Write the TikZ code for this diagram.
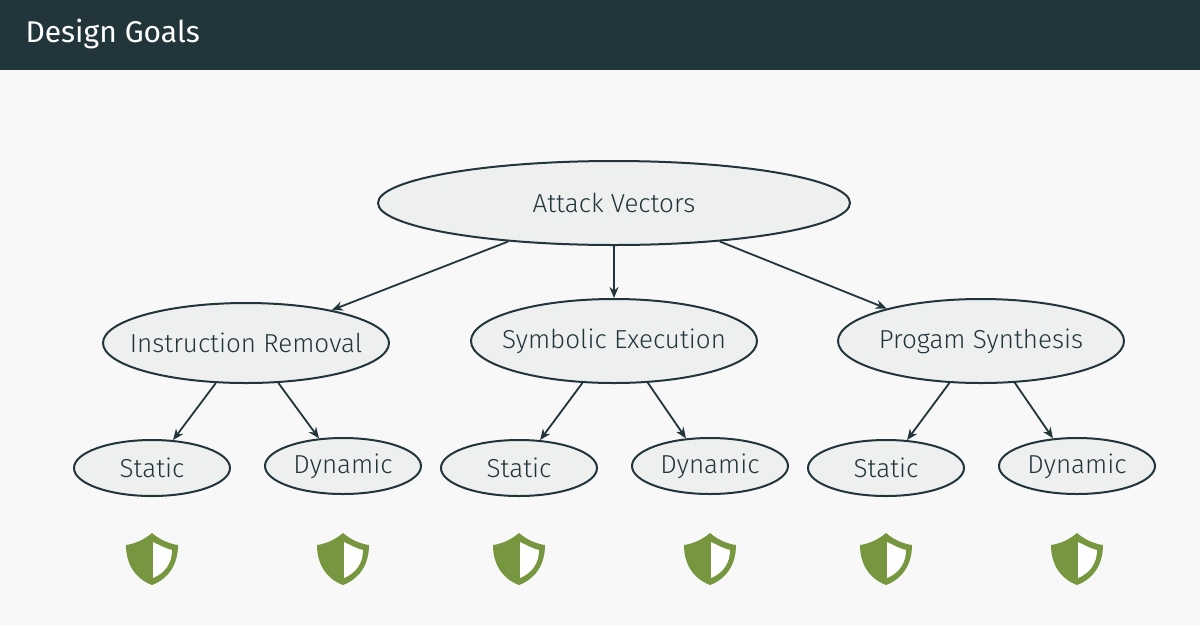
\documentclass[tikz,border=0pt]{standalone}
\usepackage{fontspec}
\setmainfont{Fira Sans}[UprightFont=* Light]
\newfontfamily\titlefont{Fira Sans}
\usetikzlibrary{shapes.geometric,arrows.meta}
\definecolor{dk}{HTML}{22353A}
\definecolor{bg}{HTML}{F8F8F8}
\definecolor{ef}{HTML}{EEF0F0}
\definecolor{gr}{HTML}{76973F}
\tikzset{
 ell/.style={ellipse,draw=dk,fill=ef,line width=2pt,inner sep=0pt,label={[text=dk,font=\fontsize{26}{30}\selectfont]center:#1}},
 arr/.style={draw=dk,line width=1.8pt,-{Stealth[length=11pt,width=9pt]}},
 shield/.pic={\fill[gr] (0,-24) .. controls (8,-17) and (18,-13) .. (26,-12) .. controls (26,8) and (16,22) .. (0,28) .. controls (-16,22) and (-26,8) .. (-26,-12) .. controls (-18,-13) and (-8,-17) .. (0,-24) -- cycle;
 \fill[white] (1,-15) .. controls (9,-11) and (15,-8) .. (20,-7) .. controls (20,6) and (13,16) .. (1,21) -- cycle;}
}
\begin{document}
\begin{tikzpicture}[x=1pt,y=-1pt]
\useasboundingbox (0,0) rectangle (1200,625);
\fill[bg] (0,0) rectangle (1200,625);
\fill[dk] (0,0) rectangle (1200,70);
\node[anchor=west,text=white,font=\titlefont\fontsize{30}{34}\selectfont] (title) at (22,34) {Design Goals};
\node[ell={Attack Vectors},minimum width=472pt,minimum height=84pt] (av) at (614,203) {};
\node[ell={Instruction Removal},minimum width=286pt,minimum height=80pt] (ir) at (246,343) {};
\node[ell={Symbolic Execution},minimum width=286pt,minimum height=84pt] (se) at (614,341) {};
\node[ell={Progam Synthesis},minimum width=286pt,minimum height=84pt] (ps) at (981,341) {};
\foreach \n/\x/\y/\t in {s1/152/468/Static,d1/343/466/Dynamic,s2/519/468/Static,d2/710/466/Dynamic,s3/886/468/Static,d3/1077/466/Dynamic}
  \node[ell=\t,minimum width=156pt,minimum height=56pt] (\n) at (\x,\y) {};
\draw[arr] (av.200.7) -- (ir.21);
\draw[arr] (av.south) -- (se.north);
\draw[arr] (av.-20) -- (ps.161);
\foreach \p/\a/\b in {ir/s1/d1,se/s2/d2,ps/s3/d3}{
  \draw[arr] (\p.233) -- (\a.53);
  \draw[arr] (\p.-51) -- (\b.131);
}
\foreach \x in {152,343,519,710,886,1077} \pic at (\x,557) {shield};
\end{tikzpicture}
\end{document}
